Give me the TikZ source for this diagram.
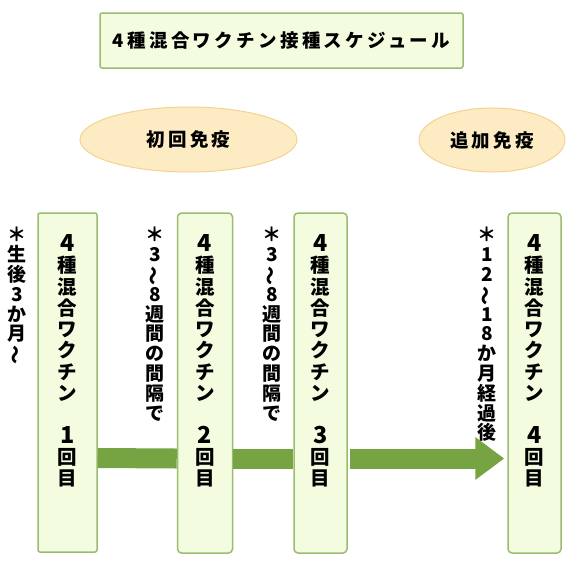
\documentclass[tikz,border=0pt]{standalone}
\usepackage{fontspec}
\usepackage{graphicx}
\setmainfont{Noto Sans CJK JP}
\newfontfamily\jpsp{Noto Sans CJK JP}[LetterSpace=18]
\usetikzlibrary{shapes.geometric,arrows.meta}
\definecolor{boxfill}{HTML}{F4FCE0}
\definecolor{boxline}{HTML}{9CBB72}
\definecolor{arrowgreen}{HTML}{76A443}
\definecolor{ovalfill}{HTML}{FDEBC3}
\definecolor{ovalline}{HTML}{F2D48E}
\newcommand{\vwave}{\rotatebox[origin=c]{90}{～}}
\newcommand{\dg}[1]{\scalebox{1.2}{#1}}
\tikzset{
  greenbox/.style={draw=boxline, fill=boxfill, line width=1.5pt, rounded corners=4pt, inner sep=0pt},
  oval/.style={ellipse, draw=ovalline, fill=ovalfill, line width=1pt, inner sep=0pt,
    font=\jpsp\bfseries\fontsize{18.5}{20}\selectfont},
  boxtext/.style={anchor=north, align=center, inner sep=0pt,
    font=\bfseries\fontsize{19.5}{21.3}\selectfont},
  notetext/.style={anchor=north, align=center, inner sep=0pt,
    font=\bfseries\fontsize{19}{19.8}\selectfont},
  shaft/.style={draw=arrowgreen, line width=20pt},
}
\begin{document}
\begin{tikzpicture}[x=1pt,y=-1pt]
\useasboundingbox (0,0) rectangle (573,566);
% title
\node[greenbox, rounded corners=2pt, minimum width=363pt, minimum height=55pt,
  font=\jpsp\bfseries\fontsize{18.5}{20}\selectfont] (title) at (281.5,40.5) {4種混合ワクチン接種スケジュール};
% ovals
\node[oval, minimum width=217pt, minimum height=65pt] (o1) at (188.5,139.5) {初回免疫};
\node[oval, minimum width=146pt, minimum height=64pt] (o2) at (492,140) {追加免疫};
% boxes
\node[greenbox, rounded corners=2pt, minimum width=59pt, minimum height=339pt] (b1) at (67.5,382.5) {};
\node[greenbox, minimum width=55pt, minimum height=340pt] (b2) at (205,383) {};
\node[greenbox, minimum width=53pt, minimum height=340pt] (b3) at (320.5,383) {};
\node[greenbox, minimum width=53pt, minimum height=340pt] (b4) at (534.5,383) {};
% box texts
\node[boxtext] (t1) at ([yshift=-22pt]b1.north) {\dg{4}\\種\\混\\合\\ワ\\ク\\チ\\ン\\[21.3pt]\dg{1}\\回\\目};
\node[boxtext] (t2) at ([yshift=-22pt]b2.north) {\dg{4}\\種\\混\\合\\ワ\\ク\\チ\\ン\\[21.3pt]\dg{2}\\回\\目};
\node[boxtext] (t3) at ([yshift=-22pt]b3.north) {\dg{4}\\種\\混\\合\\ワ\\ク\\チ\\ン\\[21.3pt]\dg{3}\\回\\目};
\node[boxtext] (t4) at ([yshift=-22pt]b4.north) {\dg{4}\\種\\混\\合\\ワ\\ク\\チ\\ン\\[21.3pt]\dg{4}\\回\\目};
% notes
\node[notetext] (n0) at (17,227) {＊\\生\\後\\3\\か\\月\\\vwave};
\node[notetext] (n1) at (155,227) {＊\\3\\\vwave\\8\\週\\間\\の\\間\\隔\\で};
\node[notetext] (n2) at (272,227) {＊\\3\\\vwave\\8\\週\\間\\の\\間\\隔\\で};
\node[notetext] (n3) at (487,227) {＊\\1\\2\\\vwave\\1\\8\\か\\月\\経\\過\\後};
% arrows
\draw[shaft] ([yshift=-75.5pt]b1.east) -- ([yshift=-75.5pt]b2.west);
\draw[shaft] ([yshift=-75.5pt]b2.east) -- ([yshift=-75.5pt]b3.west);
\draw[shaft, -{Triangle[length=29pt,width=41pt]}, shorten >=3pt] ([yshift=-75.5pt,xshift=2pt]b3.east) -- ([yshift=-75.5pt]b4.west);
\end{tikzpicture}
\end{document}
